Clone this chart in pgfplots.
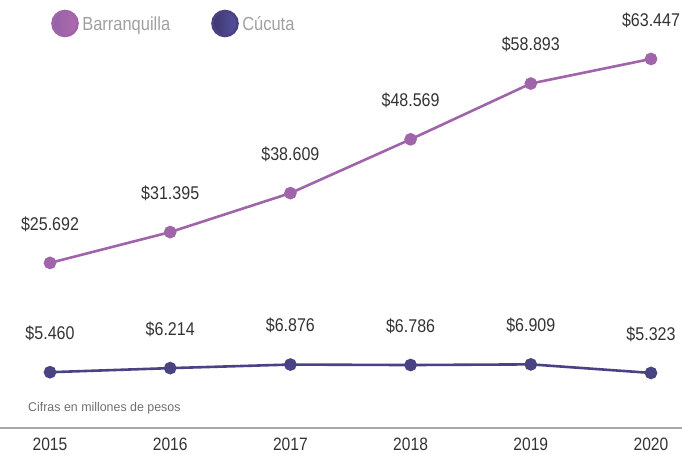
\documentclass[border=0pt]{standalone}
\usepackage{pgfplots}
\pgfplotsset{compat=1.18}
\usepackage{fontspec}
\setmainfont{Liberation Sans}[FakeStretch=0.87]
\newfontfamily\cifrasfont{Liberation Sans}[FakeStretch=0.98]
\definecolor{barr}{HTML}{A064AA}
\definecolor{barrL}{HTML}{9461A8}
\definecolor{barrR}{HTML}{B06AAC}
\definecolor{cuc}{HTML}{4A4383}
\definecolor{cucL}{HTML}{3E3870}
\definecolor{cucR}{HTML}{5650A0}
\definecolor{lblgray}{HTML}{333333}
\definecolor{leggray}{HTML}{A0A0A0}
\definecolor{cifgray}{HTML}{707070}
\definecolor{axgray}{HTML}{A8A8A8}
\begin{document}
\begin{tikzpicture}
\begin{axis}[
  at={(0,0)}, anchor=south west,
  width=682bp, height=428bp, scale only axis,
  xmin=2014.584, xmax=2020.258,
  ymin=-4.869, ymax=74.36,
  clip=false,
  axis x line*=bottom, axis y line=none,
  x axis line style={-, draw=axgray, line width=1.6bp},
  xtick={2015,2016,2017,2018,2019,2020},
  xticklabels={2015,2016,2017,2018,2019,2020},
  ytick=\empty,
  major tick length=0pt,
  xticklabel style={font=\fontsize{18}{20}\selectfont, text=lblgray, anchor=north, inner sep=0pt, yshift=-9.5bp},
  point meta=explicit symbolic,
  nodes near coords={\$\pgfplotspointmeta},
  every node near coord/.append style={font=\fontsize{18.5}{21}\selectfont, text=lblgray, anchor=center, inner sep=0pt, yshift=39bp},
  legend columns=2,
  legend style={at={(rel axis cs:0.0748,0.9778)}, anchor=north west, draw=none, fill=none,
    inner sep=0pt, font=\fontsize{19}{21}\selectfont, text=leggray,
    nodes={inner sep=0pt},
    /tikz/every odd column/.append style={column sep=3.5bp},
    /tikz/every even column/.append style={column sep=41bp}},
  legend cell align=left,
]
\addplot[barr, line width=2.6bp, mark=*, mark size=5bp, mark options={fill=barr, draw=barr},
  legend image code/.code={\shade[left color=barrL, right color=barrR] (12.5bp,0.45em-4bp) circle[radius=12.5bp];}]
  coordinates {(2015,25.692) [25.692] (2016,31.395) [31.395] (2017,38.609) [38.609]
               (2018,48.569) [48.569] (2019,58.893) [58.893] (2020,63.447) [63.447]};
\addlegendentry{Barranquilla}
\addplot[cuc, line width=2.6bp, mark=*, mark size=5bp, mark options={fill=cuc, draw=cuc},
  legend image code/.code={\shade[left color=cucL, right color=cucR] (12.5bp,0.45em-4bp) circle[radius=12.5bp];}]
  coordinates {(2015,5.460) [5.460] (2016,6.214) [6.214] (2017,6.876) [6.876]
               (2018,6.786) [6.786] (2019,6.909) [6.909] (2020,5.323) [5.323]};
\addlegendentry{Cúcuta}
\node[anchor=west, inner sep=0pt, font=\cifrasfont\fontsize{12.7}{14}\selectfont, text=cifgray]
  at (axis cs:2014.817,-1.17) {Cifras en millones de pesos};
\end{axis}
\pgfresetboundingbox
\path[use as bounding box] (0,-26bp) rectangle (682bp,428bp);
\end{tikzpicture}
\end{document}
